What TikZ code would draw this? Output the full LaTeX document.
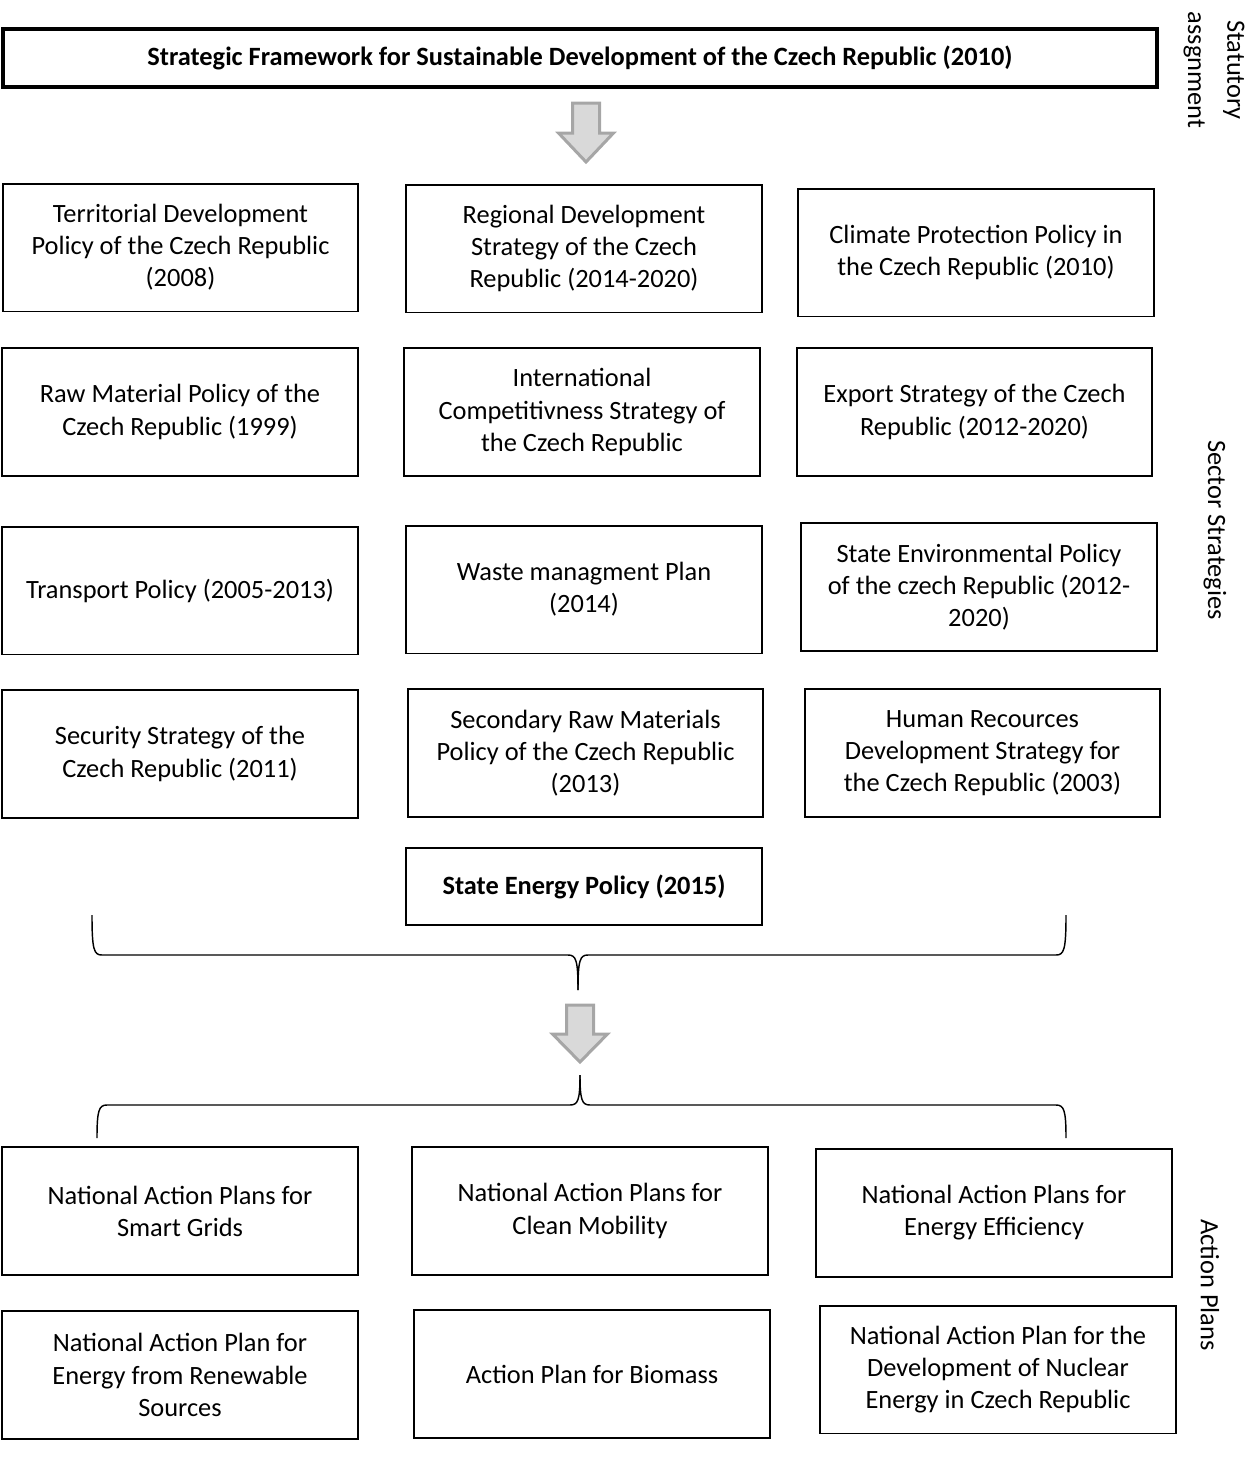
\documentclass[tikz,border=0pt]{standalone}
\usepackage{fontspec}
\setmainfont{Carlito}

\begin{document}
\begin{tikzpicture}[x=0.41667pt,y=-0.41667pt]
\tikzstyle{box}=[rectangle, draw=black, line width=0.8pt, minimum width=148pt, minimum height=53.3pt, align=center, inner sep=2pt, font=\fontsize{11}{13.4}\selectfont]
\tikzstyle{side}=[rotate=-90, align=center, font=\fontsize{11}{13.4}\selectfont]
\tikzstyle{bigarrow}=[draw=black!35, fill=black!15, line width=1.25pt, line join=miter]
\tikzstyle{brace}=[draw=black, line width=0.6pt]
\useasboundingbox (0,0) rectangle (1250,1476);

% Framework
\node at (580,58) [box, minimum width=480.8pt, minimum height=24.2pt, line width=1.3pt, font=\fontsize{11}{13.4}\selectfont\bfseries] (frame) {Strategic Framework for Sustainable Development of the Czech Republic (2010)};
\node at (1214,70) [side] (statutory) {Statutory\\[3pt]assgnment};

\coordinate (arrow_1) at (586,103);
\draw [bigarrow] (arrow_1) ++(-13.5,0) -- ++(27,0) -- ++(0,30) -- ++(14,0) -- ++(-27.5,29) -- ++(-27.5,-29) -- ++(14,0) -- cycle;

% Sector strategies
\node at (180.5,247.5) [box] (terr) {Territorial Development\\Policy of the Czech Republic\\(2008)};
\node at (584,248.5) [box] (region) {Regional Development\\Strategy of the Czech\\Republic (2014-2020)};
\node at (976,252.5) [box] (climate) {Climate Protection Policy in\\the Czech Republic (2010)};

\node at (180,412) [box] (rawmat) {Raw Material Policy of the\\Czech Republic (1999)};
\node at (582,412) [box] (compet) {International\\Competitivness Strategy of\\the Czech Republic};
\node at (974.5,412) [box] (export) {Export Strategy of the Czech\\Republic (2012-2020)};

\node at (180,590.5) [box] (transport) {Transport Policy (2005-2013)};
\node at (584,589.5) [box] (waste) {Waste managment Plan\\(2014)};
\node at (979,587) [box] (envir) {State Environmental Policy\\of the czech Republic (2012-\\2020)};

\node at (180,754) [box] (security) {Security Strategy of the\\Czech Republic (2011)};
\node at (585.5,753) [box] (secraw) {Secondary Raw Materials\\Policy of the Czech Republic\\(2013)};
\node at (982.5,753) [box] (human) {Human Recources\\Development Strategy for\\the Czech Republic (2003)};

\node at (584,886.5) [box, minimum height=32pt, font=\fontsize{11}{13.4}\selectfont\bfseries] (energy) {State Energy Policy (2015)};
\node at (1215,530) [side] (sector) {Sector Strategies};

% Braces
\draw [brace] (92,915) .. controls (92,950) and (94,955) .. (102,955) -- (568,955) .. controls (576,955) and (578,960) .. (578,990);
\draw [brace] (1066,915) .. controls (1066,950) and (1064,955) .. (1056,955) -- (588,955) .. controls (580,955) and (578,960) .. (578,990);

\coordinate (arrow_2) at (580,1005);
\draw [bigarrow] (arrow_2) ++(-13.5,0) -- ++(27,0) -- ++(0,29) -- ++(14,0) -- ++(-27.5,28) -- ++(-27.5,-28) -- ++(14,0) -- cycle;

\draw [brace] (580,1075) .. controls (580,1100) and (582,1105) .. (590,1105) -- (1056,1105) .. controls (1064,1105) and (1066,1110) .. (1066,1138);
\draw [brace] (580,1075) .. controls (580,1100) and (578,1105) .. (570,1105) -- (107,1105) .. controls (99,1105) and (97,1110) .. (97,1138);

% Action plans
\node at (180,1211) [box] (smart) {National Action Plans for\\Smart Grids};
\node at (590,1211) [box] (mobility) {National Action Plans for\\Clean Mobility};
\node at (994,1213) [box] (effic) {National Action Plans for\\Energy Efficiency};

\node at (180,1375) [box] (renew) {National Action Plan for\\Energy from Renewable\\Sources};
\node at (592,1374) [box] (biomass) {Action Plan for Biomass};
\node at (998,1369.5) [box] (nuclear) {National Action Plan for the\\Development of Nuclear\\Energy in Czech Republic};

\node at (1210,1285) [side] (actions) {Action Plans};
\end{tikzpicture}
\end{document}
